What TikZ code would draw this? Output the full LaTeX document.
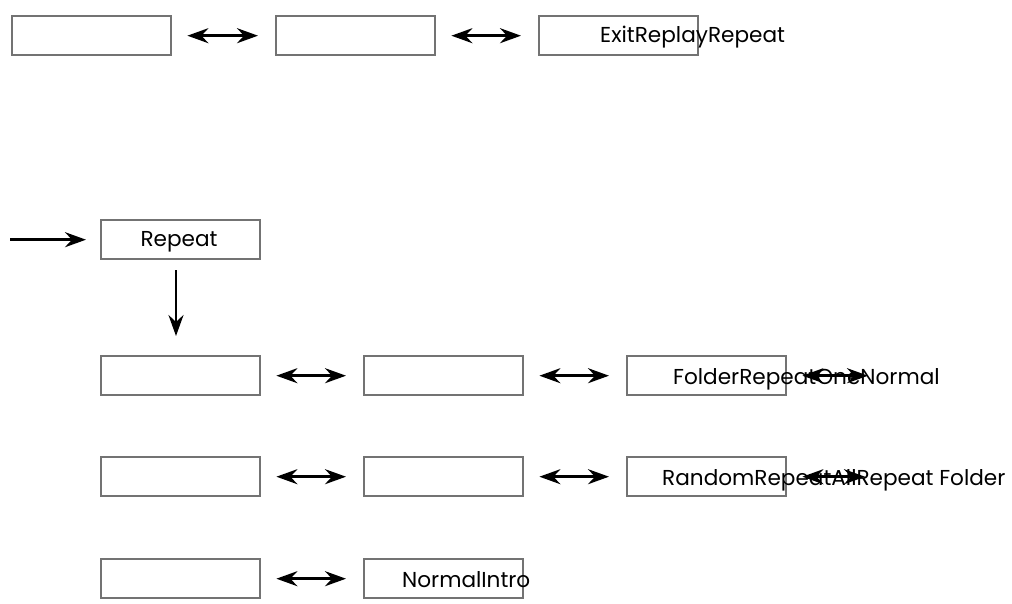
\documentclass[tikz,border=0pt]{standalone}
\usepackage{fontspec}
\setmainfont{Poppins}
\usetikzlibrary{arrows.meta}
\tikzset{
  bx/.style={draw=black!55, line width=2.4pt, minimum width=159pt, minimum height=39pt, inner sep=0pt, anchor=north west},
  lbl/.style={font=\fontsize{21.6}{22}\selectfont, inner sep=0pt, anchor=base west},
  dbl/.style={{Stealth[length=21pt,width=15pt,inset=7pt]}-{Stealth[length=21pt,width=15pt,inset=7pt]}, line width=2.8pt, shorten <=15pt, shorten >=17pt},
  sgl/.style={-{Stealth[length=21pt,width=15pt,inset=7pt]}, line width=2.8pt},
}
\begin{document}
\begin{tikzpicture}[x=1pt,y=-1pt]
\useasboundingbox (0,0) rectangle (1012,604);
% row 1
\node[bx] (a1) at (11,15) {};
\node[bx] (a2) at (275,15) {};
\node[bx] (a3) at (538,15) {};
\draw[dbl] (a1.east) -- (a2.west);
\draw[dbl] (a2.east) -- (a3.west);
\node[lbl] (t1) at (600,43) {ExitReplayRepeat};
% repeat row
\node[bx] (r) at (100,219) {};
\coordinate (in) at (10,0);
\node[lbl, anchor=base] (tr) at (179,247) {Repeat};
\draw[sgl, shorten >=14pt] (in |- r.west) -- (r.west);
\coordinate (ds) at (176,270);
\coordinate (down) at (176,336);
\draw[sgl] (ds) -- (down);
% row 3
\node[bx] (b1) at (100,355) {};
\node[bx] (b2) at (363,355) {};
\node[bx] (b3) at (626,355) {};
\draw[dbl] (b1.east) -- (b2.west);
\draw[dbl] (b2.east) -- (b3.west);
\coordinate (b4) at (885,0);
\draw[dbl] (b3.east) -- (b4 |- b3.east);
\node[lbl] (t3) at (673,384) {FolderRepeatOneNormal};
% row 4
\node[bx] (c1) at (100,456) {};
\node[bx] (c2) at (363,456) {};
\node[bx] (c3) at (626,456) {};
\draw[dbl] (c1.east) -- (c2.west);
\draw[dbl] (c2.east) -- (c3.west);
\coordinate (c4) at (882,0);
\draw[dbl] (c3.east) -- (c4 |- c3.east);
\node[lbl] (t4) at (662,485) {RandomRepeatAllRepeat Folder};
% row 5
\node[bx] (d1) at (100,558) {};
\node[bx] (d2) at (363,558) {};
\draw[dbl] (d1.east) -- (d2.west);
\node[lbl] (t5) at (402,587) {NormalIntro};
\end{tikzpicture}
\end{document}
